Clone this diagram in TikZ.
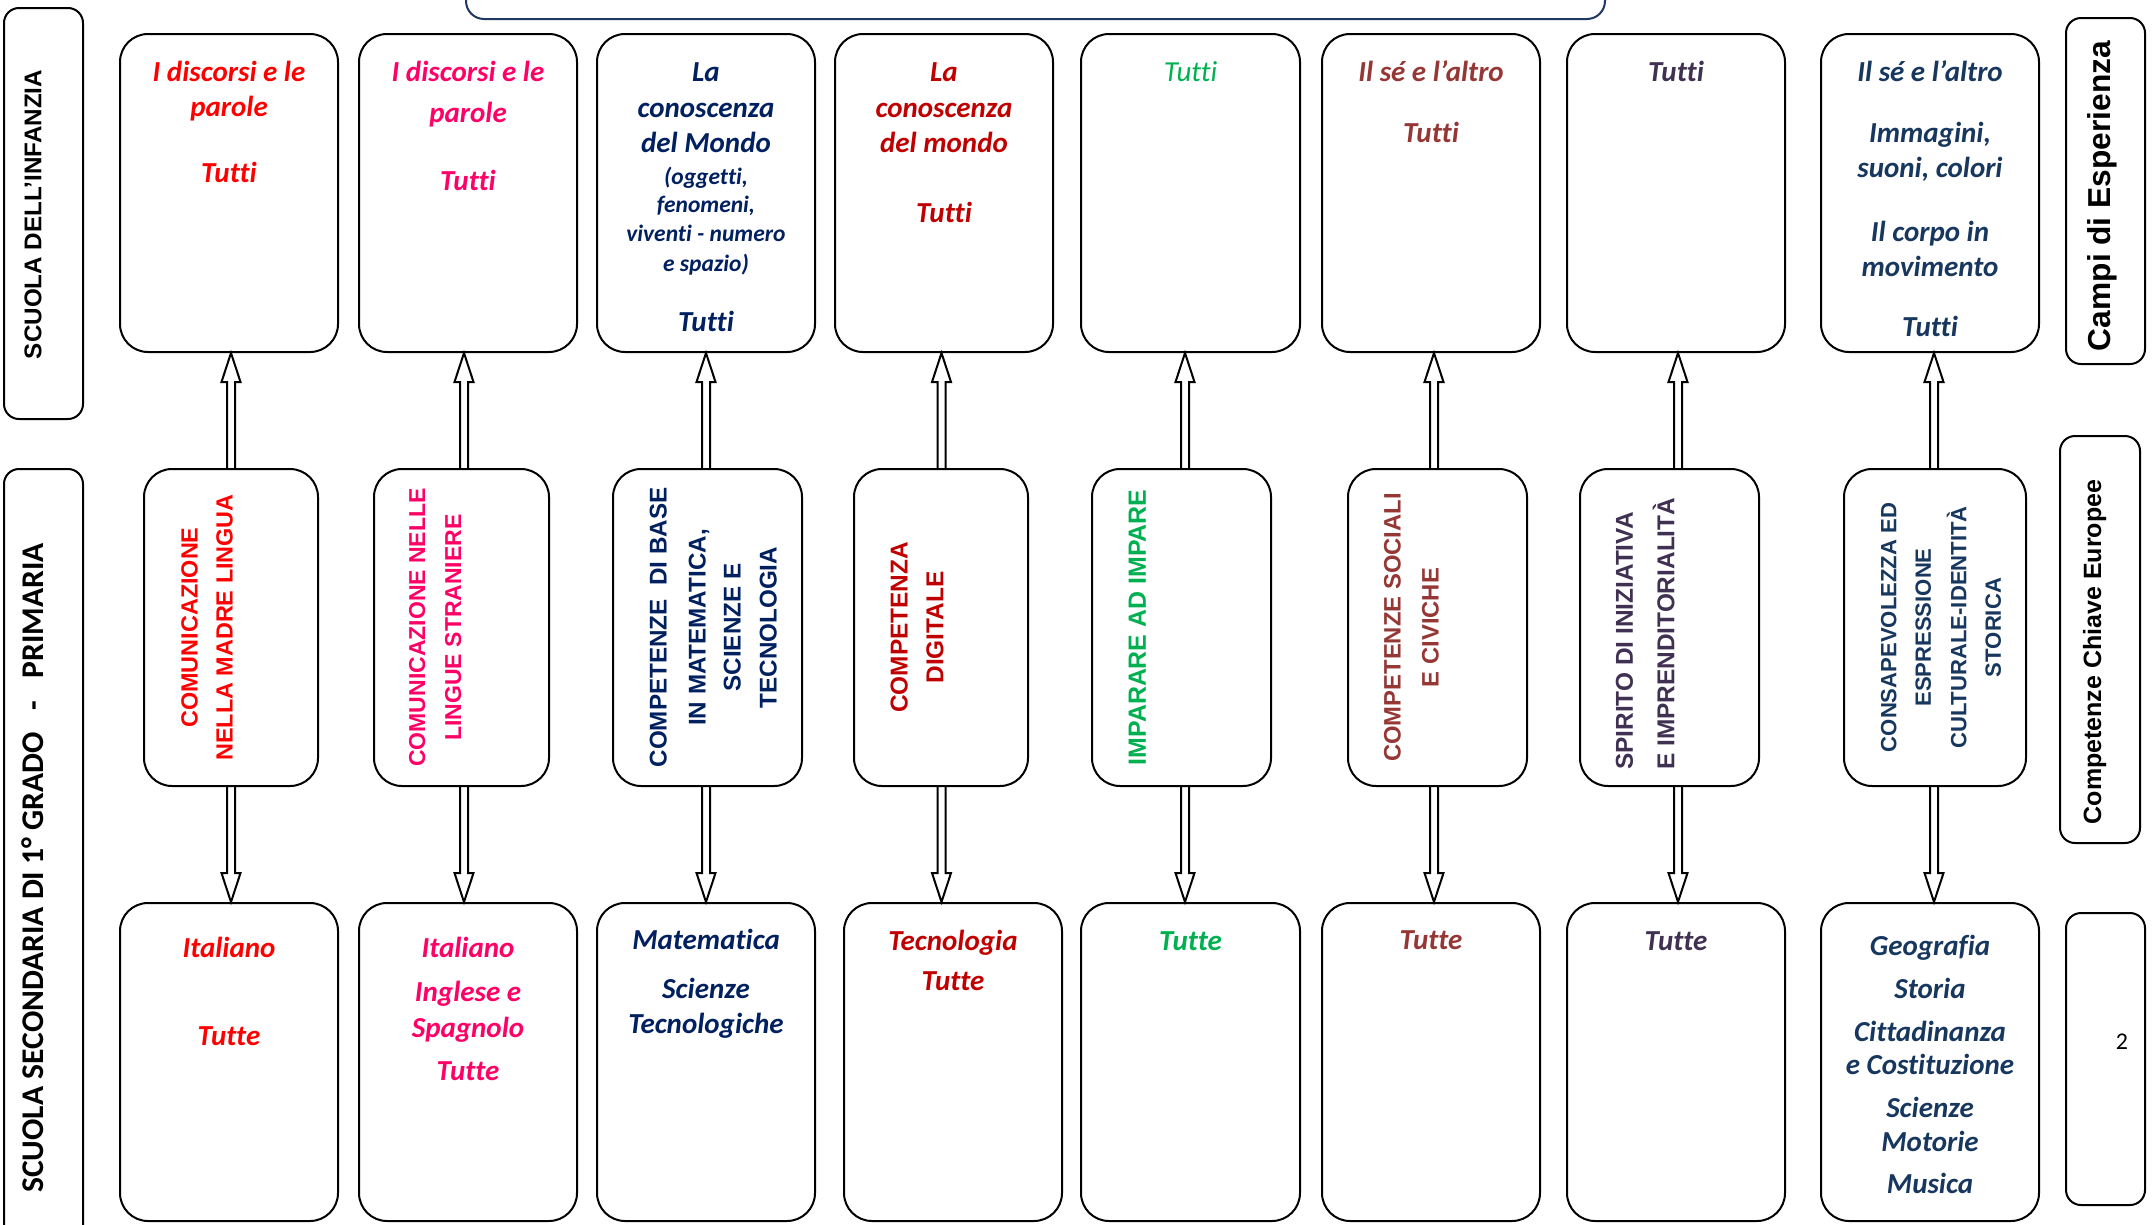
\documentclass[tikz,border=0pt]{standalone}
\usepackage{fontspec}
\setmainfont{Carlito}[Ligatures=NoCommon]
\newfontfamily\lsans{Liberation Sans}
\usetikzlibrary{calc}
\definecolor{cA}{HTML}{FF0000}
\definecolor{cB}{HTML}{FF0066}
\definecolor{cC}{HTML}{002060}
\definecolor{cD}{HTML}{C00000}
\definecolor{cE}{HTML}{00B050}
\definecolor{cF}{HTML}{953735}
\definecolor{cG}{HTML}{403152}
\definecolor{cH}{HTML}{17375E}
\definecolor{cframe}{HTML}{1F3864}
\begin{document}
\begin{tikzpicture}[x=1pt,y=-1pt,
  box/.style={draw=black, line width=2pt, rounded corners=28pt, inner sep=0pt},
  tbox/.style={box, minimum height=318pt},
  mbox/.style={box, minimum height=317pt},
  sbox/.style={draw=black, line width=2pt, rounded corners=15pt, inner sep=0pt},
  ttxt/.style={font=\fontsize{29}{35}\selectfont\bfseries\itshape, anchor=base, inner sep=0pt},
  stxt/.style={font=\fontsize{23.5}{28}\selectfont\bfseries\itshape, anchor=base, inner sep=0pt},
  vtxt/.style={rotate=90, anchor=base, inner sep=0pt, font=\lsans\bfseries\fontsize{#1}{#1}\selectfont},
  barr/.style={draw=black, line width=2pt, line join=miter}]
\fill[white] (0,0) rectangle (2156,1224);
\useasboundingbox (0,0) rectangle (2156,1224);

% frame at top
\node[draw=cframe, line width=2pt, rounded corners=18pt, inner sep=0pt,
      minimum width=1139pt, minimum height=60pt] (tb) at (1035.5,-11) {};

% side boxes
\node[sbox, minimum width=79pt, minimum height=411pt] (L1) at (43.5,213.5) {};
\node[sbox, minimum width=79pt, minimum height=781pt] (L2) at (43.5,859.5) {};
\node[sbox, minimum width=79pt, minimum height=346pt] (R1) at (2105.5,191) {};
\node[sbox, minimum width=80pt, minimum height=407pt] (R2) at (2100,639.5) {};
\node[sbox, minimum width=79pt, minimum height=292pt] (R3) at (2105.5,1059) {};

% top boxes
\node[tbox, minimum width=218pt] (t1) at (229,193) {};
\node[tbox, minimum width=218pt] (t2) at (468,193) {};
\node[tbox, minimum width=218pt] (t3) at (706,193) {};
\node[tbox, minimum width=218pt] (t4) at (944,193) {};
\node[tbox, minimum width=219pt] (t5) at (1190.5,193) {};
\node[tbox, minimum width=218pt] (t6) at (1431,193) {};
\node[tbox, minimum width=218pt] (t7) at (1676,193) {};
\node[tbox, minimum width=218pt] (t8) at (1930,193) {};

% middle boxes
\node[mbox, minimum width=174pt] (m1) at (231,627.5) {};
\node[mbox, minimum width=175pt] (m2) at (461.5,627.5) {};
\node[mbox, minimum width=189pt] (m3) at (707.5,627.5) {};
\node[mbox, minimum width=174pt] (m4) at (941,627.5) {};
\node[mbox, minimum width=179pt] (m5) at (1181.5,627.5) {};
\node[mbox, minimum width=179pt] (m6) at (1437.5,627.5) {};
\node[mbox, minimum width=179pt] (m7) at (1669.5,627.5) {};
\node[mbox, minimum width=182pt] (m8) at (1935,627.5) {};

% bottom boxes
\node[tbox, minimum width=218pt] (b1) at (229,1062) {};
\node[tbox, minimum width=218pt] (b2) at (468,1062) {};
\node[tbox, minimum width=218pt] (b3) at (706,1062) {};
\node[tbox, minimum width=218pt] (b4) at (953,1062) {};
\node[tbox, minimum width=219pt] (b5) at (1190.5,1062) {};
\node[tbox, minimum width=218pt] (b6) at (1431,1062) {};
\node[tbox, minimum width=218pt] (b7) at (1676,1062) {};
\node[tbox, minimum width=218pt] (b8) at (1930,1062) {};

% hollow block arrows
\foreach \i/\x in {1/231,2/464,3/706,4/941.5,5/1185,6/1434,7/1678,8/1934}{
  \coordinate (ax\i) at (\x,0);
  \coordinate (ua\i) at (m\i.north -| ax\i);
  \coordinate (ub\i) at (t\i.south -| ax\i);
  \coordinate (da\i) at (m\i.south -| ax\i);
  \coordinate (db\i) at (b\i.north -| ax\i);
  \draw[barr] ($(ua\i)+(-4,0)$) -- ($(ub\i)+(-4,29)$) -- ($(ub\i)+(-9.5,29)$) -- (ub\i)
     -- ($(ub\i)+(9.5,29)$) -- ($(ub\i)+(4,29)$) -- ($(ua\i)+(4,0)$);
  \draw[barr] ($(da\i)+(-4,0)$) -- ($(db\i)+(-4,-29)$) -- ($(db\i)+(-9.5,-29)$) -- (db\i)
     -- ($(db\i)+(9.5,-29)$) -- ($(db\i)+(4,-29)$) -- ($(da\i)+(4,0)$);
}

% side labels
\node[rotate=90, anchor=base, inner sep=0pt, font=\lsans\bfseries\fontsize{24.2}{28}\selectfont] (lt1) at (41.5,214.5) {SCUOLA DELL’INFANZIA};
\node[rotate=90, anchor=base, inner sep=0pt, font=\bfseries\fontsize{31.6}{36}\selectfont] (lt2) at (43,868) {SCUOLA SECONDARIA DI 1° GRADO\hspace{22pt}-\hspace{22pt}PRIMARIA};
\node[rotate=90, anchor=base, inner sep=0pt, font=\lsans\bfseries\fontsize{31.7}{36}\selectfont] (rt1) at (2110,196) {Campi di Esperienza};
\node[rotate=90, anchor=base, inner sep=0pt, font=\lsans\bfseries\fontsize{25}{30}\selectfont] (rt2) at (2101,652) {Competenze Chiave Europee};
\node[anchor=base, inner sep=0pt, font=\fontsize{24}{28}\selectfont] (rt3) at (2122,1049) {2};

% top texts
\node[ttxt,cA] (t1a) at (229,81) {I discorsi e le};
\node[ttxt,cA] (t1b) at (229,116) {parole};
\node[ttxt,cA] (t1c) at (229,182) {Tutti};
\node[ttxt,cB] (t2a) at (468,81) {I discorsi e le};
\node[ttxt,cB] (t2b) at (468,122) {parole};
\node[ttxt,cB] (t2c) at (468,190) {Tutti};
\node[ttxt,cC] (t3a) at (706,81) {La};
\node[ttxt,cC] (t3b) at (706,117) {conoscenza};
\node[ttxt,cC] (t3c) at (706,152) {del Mondo};
\node[stxt,cC] (t3d) at (706,184.5) {(oggetti,};
\node[stxt,cC] (t3e) at (706,212.5) {fenomeni,};
\node[stxt,cC] (t3f) at (706,241.5) {viventi - numero};
\node[stxt,cC] (t3g) at (706,271.5) {e spazio)};
\node[ttxt,cC] (t3h) at (706,331) {Tutti};
\node[ttxt,cD] (t4a) at (944,81) {La};
\node[ttxt,cD] (t4b) at (944,117) {conoscenza};
\node[ttxt,cD] (t4c) at (944,152) {del mondo};
\node[ttxt,cD] (t4d) at (944,222) {Tutti};
\node[ttxt,cE,font=\fontsize{29}{35}\selectfont\itshape] (t5a) at (1190.5,81) {Tutti};
\node[ttxt,cF] (t6a) at (1431,81) {Il sé e l’altro};
\node[ttxt,cF] (t6b) at (1431,142) {Tutti};
\node[ttxt,cG] (t7a) at (1676,81) {Tutti};
\node[ttxt,cH] (t8a) at (1930,81) {Il sé e l’altro};
\node[ttxt,cH] (t8b) at (1930,142) {Immagini,};
\node[ttxt,cH] (t8c) at (1930,177) {suoni, colori};
\node[ttxt,cH] (t8d) at (1930,241) {Il corpo in};
\node[ttxt,cH] (t8e) at (1930,276) {movimento};
\node[ttxt,cH] (t8f) at (1930,336) {Tutti};

% middle texts
\node[vtxt=23.4,cA] (m1a) at (197.7,627.5) {COMUNICAZIONE};
\node[vtxt=23.4,cA] (m1b) at (232.7,627.5) {NELLA MADRE LINGUA};
\node[vtxt=23.0,cB] (m2a) at (425.2,627.5) {COMUNICAZIONE NELLE};
\node[vtxt=23.0,cB] (m2b) at (461.2,627.5) {LINGUE STRANIERE};
\node[vtxt=24.2,cC] (m3a) at (666.7,627.5) {COMPETENZE\ \ DI BASE};
\node[vtxt=24.2,cC] (m3b) at (705.7,627.5) {IN MATEMATICA,};
\node[vtxt=24.2,cC] (m3c) at (740.7,627.5) {SCIENZE E};
\node[vtxt=24.2,cC] (m3d) at (776.7,627.5) {TECNOLOGIA};
\node[vtxt=24.4,cD] (m4a) at (907.7,627.5) {COMPETENZA};
\node[vtxt=24.4,cD] (m4b) at (943.3,627.5) {DIGITALE};
\node[vtxt=24.9,cE] (m5a) at (1145.9,627.5) {IMPARARE AD IMPARE};
\node[vtxt=23.8,cF] (m6a) at (1400.5,627.5) {COMPETENZE SOCIALI};
\node[vtxt=23.8,cF] (m6b) at (1438.5,627.5) {E CIVICHE};
\node[vtxt=24.4,cG,anchor=base west] (m7a) at (1632.8,770) {SPIRITO DI INIZIATIVA};
\node[vtxt=24.4,cG,anchor=base west] (m7b) at (1674.3,770) {E IMPRENDITORIALITÀ};
\node[vtxt=22.1,cH] (m8a) at (1896.4,627.5) {CONSAPEVOLEZZA ED};
\node[vtxt=22.1,cH] (m8b) at (1930.9,627.5) {ESPRESSIONE};
\node[vtxt=22.1,cH] (m8c) at (1966.4,627.5) {CULTURALE-IDENTITÀ};
\node[vtxt=22.1,cH] (m8d) at (2000.9,627.5) {STORICA};

% bottom texts
\node[ttxt,cA] (b1a) at (229,957) {Italiano};
\node[ttxt,cA] (b1b) at (229,1045) {Tutte};
\node[ttxt,cB] (b2a) at (468,957) {Italiano};
\node[ttxt,cB] (b2b) at (468,1001) {Inglese e};
\node[ttxt,cB] (b2c) at (468,1037) {Spagnolo};
\node[ttxt,cB] (b2d) at (468,1080) {Tutte};
\node[ttxt,cC] (b3a) at (706,949) {Matematica};
\node[ttxt,cC] (b3b) at (706,998) {Scienze};
\node[ttxt,cC] (b3c) at (706,1033) {Tecnologiche};
\node[ttxt,cD] (b4a) at (953,950) {Tecnologia};
\node[ttxt,cD] (b4b) at (953,990) {Tutte};
\node[ttxt,cE] (b5a) at (1190.5,950) {Tutte};
\node[ttxt,cF] (b6a) at (1431,949) {Tutte};
\node[ttxt,cG] (b7a) at (1676,950) {Tutte};
\node[ttxt,cH] (b8a) at (1930,955) {Geografia};
\node[ttxt,cH] (b8b) at (1930,998) {Storia};
\node[ttxt,cH] (b8c) at (1930,1041) {Cittadinanza};
\node[ttxt,cH] (b8d) at (1930,1074) {e Costituzione};
\node[ttxt,cH] (b8e) at (1930,1117) {Scienze};
\node[ttxt,cH] (b8f) at (1930,1151) {Motorie};
\node[ttxt,cH] (b8g) at (1930,1193) {Musica};
\end{tikzpicture}
\end{document}
